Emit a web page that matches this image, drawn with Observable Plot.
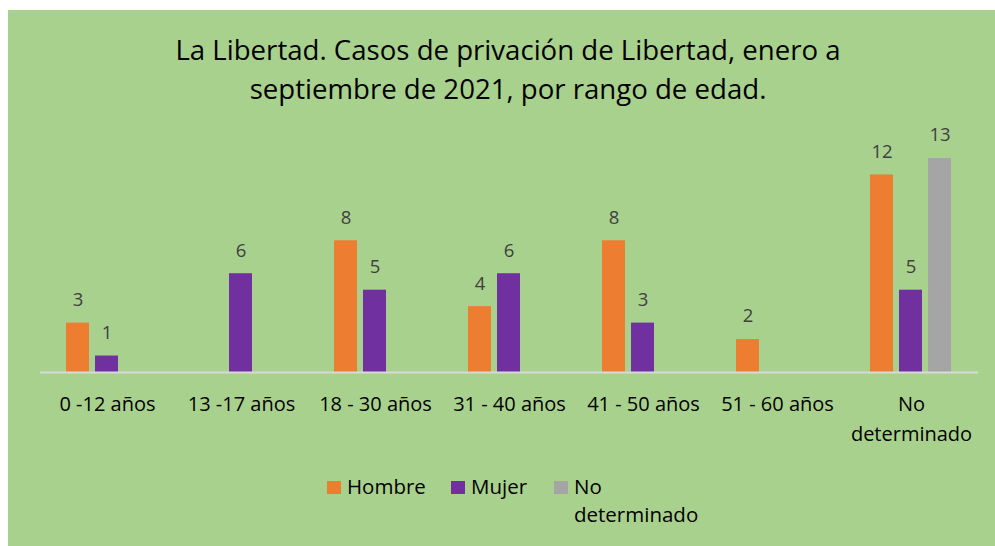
<!DOCTYPE html>
<html>
<head>
<meta charset="utf-8">
<script src="https://cdn.jsdelivr.net/npm/d3@7"></script>
<script src="https://cdn.jsdelivr.net/npm/@observablehq/plot@0.6"></script>
<style>
  html, body { margin: 0; padding: 0; background: #fff; }
  #wrap { position: relative; width: 995px; height: 546px; overflow: hidden; font-family: "Open Sans", sans-serif; }
  #panel { position: absolute; left: 8px; top: 10px; width: 987px; height: 536px; background: #a9d18e; }
  #title { position: absolute; left: 0; top: 30px; width: 1016px; text-align: center; font-size: 27.6px; line-height: 39px; color: #000; }
  #chart { position: absolute; left: 0; top: 120px; }
  #legend { position: absolute; top: 472px; left: 0; width: 995px; font-size: 20.5px; color: #000; }
  .item { position: absolute; top: 0; }
  .sw { position: absolute; top: 9px; width: 14px; height: 13px; }
</style>
</head>
<body>
<div id="wrap">
  <div id="panel"></div>
  <div id="title">La Libertad. Casos de privación de Libertad, enero a<br>septiembre de 2021, por rango de edad.</div>
  <div id="chart"></div>
  <div id="legend"></div>
</div>
<script>
const categories = ["0 -12 años", "13 -17 años", "18 - 30 años", "31 - 40 años", "41 - 50 años", "51 - 60 años", "No\ndeterminado"];
const seriesNames = ["Hombre", "Mujer", "No determinado"];
const hombre = [3, 0, 8, 4, 8, 2, 12];
const mujer = [1, 6, 5, 6, 3, 0, 5];
const noDeterminado = [0, 0, 0, 0, 0, 0, 13];
const colors = ["#ed7d31", "#7030a0", "#a5a5a5"];

const seriesValues = [hombre, mujer, noDeterminado];
const data = [];
categories.forEach((c, i) => {
  seriesNames.forEach((s, j) => {
    const v = seriesValues[j][i];
    if (v > 0) data.push({cat: c, series: s, value: v});
  });
});

const chart = Plot.plot({
  width: 995,
  height: 360,
  marginLeft: 37,
  marginRight: 15,
  marginTop: 38,
  marginBottom: 108,
  style: {background: "transparent", fontFamily: "'Open Sans', sans-serif", overflow: "visible"},
  fx: {domain: categories, padding: 0, label: null},
  x: {domain: seriesNames, paddingInner: 0.2, paddingOuter: 0.88, axis: null},
  y: {domain: [0, 13], axis: null},
  color: {domain: seriesNames, range: colors},
  marks: [
    Plot.barY(data, {fx: "cat", x: "series", y: "value", fill: "series"}),
    Plot.text(data, {fx: "cat", x: "series", y: "value", text: d => String(d.value), dy: -23, fill: "#404040", fontSize: 18.5}),
    Plot.ruleY([0], {stroke: "#d9d9d9", strokeWidth: 2}),
    Plot.axisFx({anchor: "bottom", tickSize: 0, tickPadding: 17, fontSize: 20, fill: "#000", label: null, lineHeight: 1.5})
  ]
});
document.getElementById("chart").appendChild(chart);

const legend = document.getElementById("legend");
const pos = [327, 451, 554];
seriesNames.forEach((s, j) => {
  const it = document.createElement("div");
  it.className = "item";
  it.style.left = pos[j] + "px";
  const sw = document.createElement("div");
  sw.className = "sw";
  sw.style.background = colors[j];
  sw.style.left = "0px";
  it.appendChild(sw);
  const t = document.createElement("div");
  t.style.marginLeft = "20px";
  t.style.lineHeight = "28px";
  t.innerHTML = s === "No determinado" ? "No<br>determinado" : s;
  it.appendChild(t);
  legend.appendChild(it);
});
</script>
</body>
</html>
